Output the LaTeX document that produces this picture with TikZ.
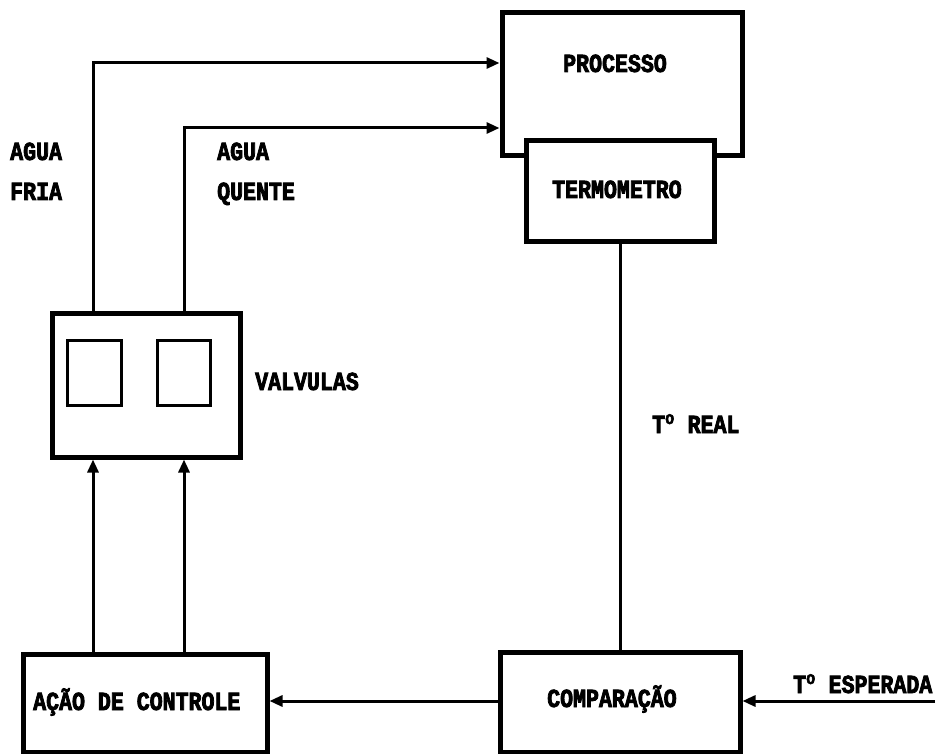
\documentclass[tikz,border=0pt]{standalone}
\usepackage{fontspec}
\setmainfont{Liberation Mono}[FakeStretch=0.83, BoldFeatures={FakeBold=3}]
\usetikzlibrary{arrows.meta}
\newcommand\lblfont{\fontsize{26}{30}\selectfont\bfseries}
\begin{document}
\begin{tikzpicture}[x=1pt,y=-1pt,
  box/.style={draw, line width=5pt, fill=white, inner sep=0pt},
  inbox/.style={draw, line width=3pt, inner sep=0pt},
  wire/.style={line width=3pt},
  arr/.style={wire, -{Triangle[length=13pt,width=11pt]}},
  txt/.style={font=\lblfont, inner sep=0pt, anchor=base west}]
\useasboundingbox (0,0) rectangle (937,754);
% boxes
\node[box, minimum width=240pt, minimum height=143pt] (proc) at (622,84.5) {};
\node[box, minimum width=188pt, minimum height=101pt] (term) at (620,191.5) {};
\node[box, minimum width=188pt, minimum height=144pt] (valv) at (146,385) {};
\node[inbox, minimum width=54pt, minimum height=65pt] (v1) at (94,372.5) {};
\node[inbox, minimum width=53pt, minimum height=65pt] (v2) at (183.5,372.5) {};
\node[box, minimum width=244pt, minimum height=98pt] (acao) at (145,703) {};
\node[box, minimum width=240pt, minimum height=100pt] (comp) at (620,702) {};
% helper coordinates
\coordinate (fx) at (93,0);
\coordinate (qx) at (184,0);
\coordinate (fy) at (0,63);
\coordinate (qy) at (0,128);
\coordinate (espin) at (935,701);
% connectors
\draw[arr] (valv.north -| fx) |- (proc.west |- fy);
\draw[arr] (valv.north -| qx) |- (proc.west |- qy);
\draw[wire] (term.south) -- (comp.north);
\draw[arr] (espin) -- (espin -| comp.east);
\draw[arr] (comp.west |- espin) -- (acao.east |- espin);
\draw[arr] (acao.north -| fx) -- (valv.south -| fx);
\draw[arr] (acao.north -| qx) -- (valv.south -| qx);
% labels
\node[txt] (tproc) at (563,72) {PROCESSO};
\node[txt] (tterm) at (552,198) {TERMOMETRO};
\node[txt] (tvalv) at (255,390) {VALVULAS};
\node[txt] (tacao) at (33,710) {AÇÃO DE CONTROLE};
\node[txt] (tcomp) at (547,707) {COMPARAÇÃO};
\node[txt] (tesp) at (793,693) {T\textsuperscript{o} ESPERADA};
\node[txt] (treal) at (652,433) {T\textsuperscript{o} REAL};
\node[txt] (fa) at (10,160) {AGUA};
\node[txt] (fb) at (10,200) {FRIA};
\node[txt] (qa) at (217,160) {AGUA};
\node[txt] (qb) at (217,200) {QUENTE};
\end{tikzpicture}
\end{document}
